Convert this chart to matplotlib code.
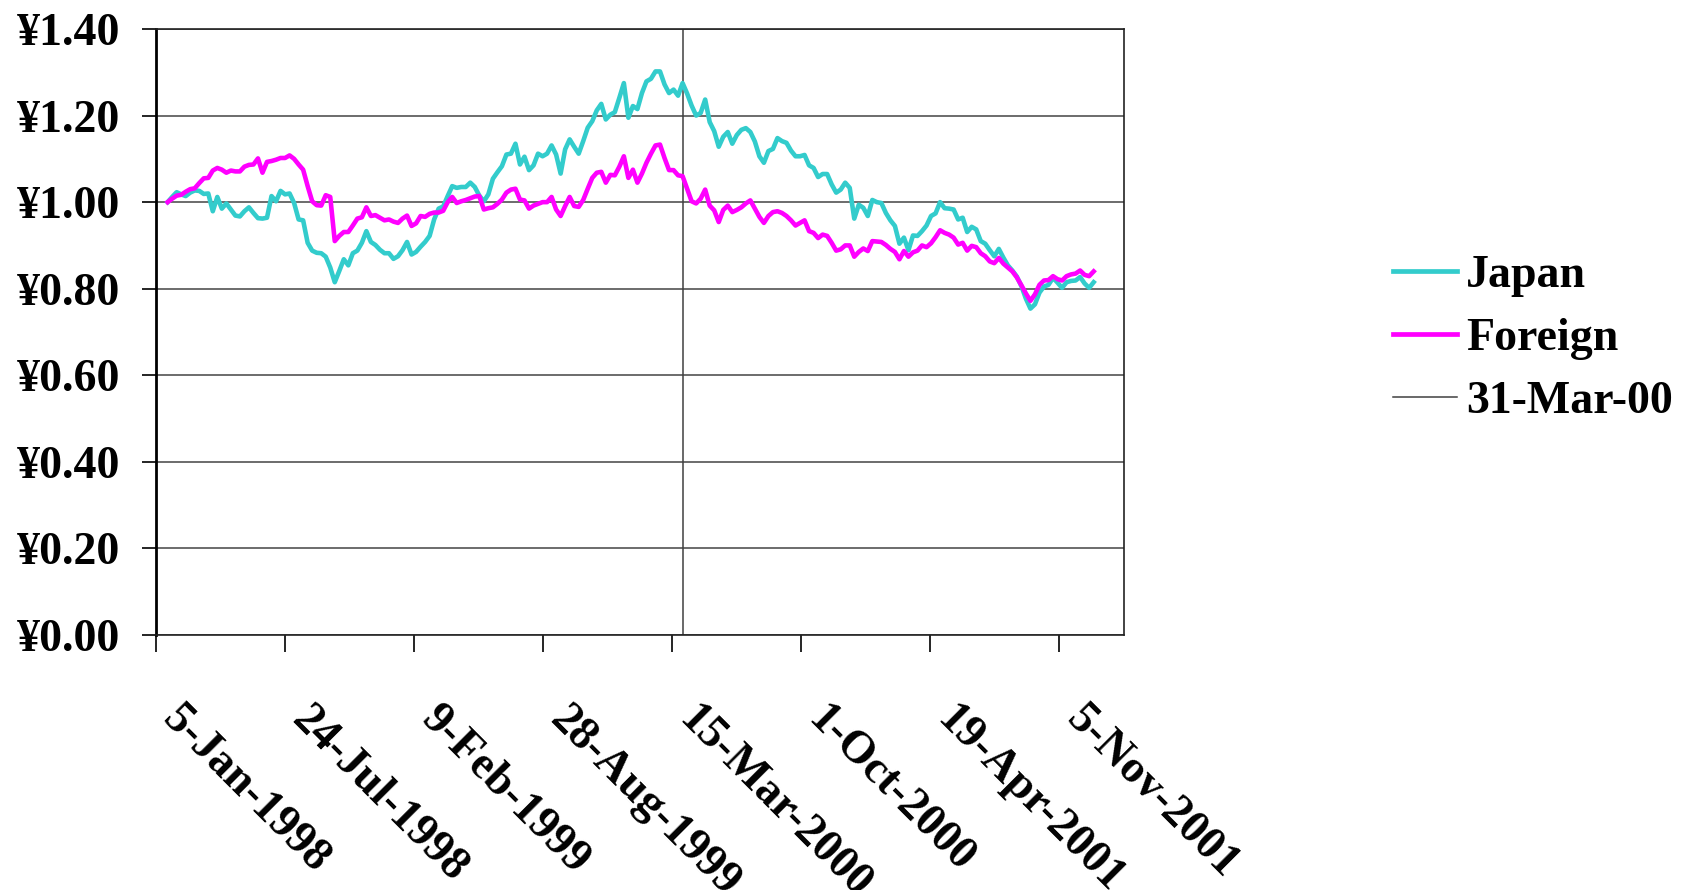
import matplotlib
matplotlib.use("Agg")
import matplotlib.pyplot as plt
import matplotlib.dates as mdates
import matplotlib.transforms as mtransforms
from matplotlib.lines import Line2D
import pandas as pd

plt.rcParams['font.family'] = ['Liberation Serif', 'DejaVu Serif']
plt.rcParams['font.weight'] = 'bold'

# ---- data (weekly) ----
start_date = "1998-01-23"
n_weeks = 206

japan = [
    1.000, 1.012, 1.023, 1.018, 1.014, 1.022, 1.027, 1.026, 1.019, 1.020,
    0.979, 1.012, 0.985, 0.997, 0.983, 0.969, 0.967, 0.979, 0.988, 0.975,
    0.963, 0.962, 0.964, 1.014, 1.002, 1.026, 1.018, 1.020, 0.998, 0.960,
    0.958, 0.906, 0.888, 0.883, 0.882, 0.874, 0.849, 0.815, 0.841, 0.868,
    0.854, 0.882, 0.888, 0.906, 0.933, 0.908, 0.901, 0.890, 0.882, 0.882,
    0.869, 0.875, 0.889, 0.908, 0.879, 0.885, 0.897, 0.908, 0.922, 0.960,
    0.985, 0.990, 1.014, 1.037, 1.033, 1.035, 1.035, 1.045, 1.035, 1.015,
    1.002, 1.018, 1.054, 1.069, 1.083, 1.110, 1.112, 1.135, 1.087, 1.105,
    1.074, 1.085, 1.112, 1.106, 1.112, 1.131, 1.110, 1.066, 1.122, 1.145,
    1.128, 1.112, 1.141, 1.172, 1.187, 1.212, 1.227, 1.191, 1.202, 1.208,
    1.241, 1.275, 1.195, 1.222, 1.215, 1.252, 1.279, 1.285, 1.302, 1.302,
    1.272, 1.252, 1.260, 1.246, 1.275, 1.251, 1.223, 1.200, 1.206, 1.237,
    1.185, 1.164, 1.128, 1.151, 1.162, 1.135, 1.155, 1.167, 1.171, 1.162,
    1.140, 1.106, 1.091, 1.118, 1.123, 1.148, 1.141, 1.137, 1.119, 1.106,
    1.106, 1.109, 1.085, 1.079, 1.058, 1.065, 1.065, 1.041, 1.022, 1.029,
    1.045, 1.033, 0.962, 0.994, 0.987, 0.968, 1.005, 1.000, 0.998, 0.975,
    0.958, 0.945, 0.904, 0.918, 0.889, 0.923, 0.922, 0.933, 0.946, 0.968,
    0.974, 1.000, 0.986, 0.985, 0.983, 0.960, 0.964, 0.931, 0.943, 0.937,
    0.910, 0.904, 0.889, 0.875, 0.892, 0.872, 0.854, 0.842, 0.828, 0.806,
    0.777, 0.754, 0.764, 0.791, 0.805, 0.809, 0.825, 0.814, 0.802, 0.815,
    0.818, 0.819, 0.827, 0.812, 0.802, 0.815,
]

foreign = [
    1.000, 1.008, 1.015, 1.017, 1.024, 1.030, 1.032, 1.044, 1.055, 1.056,
    1.073, 1.079, 1.075, 1.068, 1.073, 1.071, 1.071, 1.082, 1.086, 1.087,
    1.101, 1.068, 1.093, 1.095, 1.098, 1.102, 1.102, 1.108, 1.100, 1.087,
    1.075, 1.037, 1.002, 0.993, 0.992, 1.016, 1.012, 0.910, 0.922, 0.931,
    0.931, 0.946, 0.962, 0.965, 0.988, 0.968, 0.970, 0.964, 0.958, 0.960,
    0.955, 0.952, 0.962, 0.969, 0.945, 0.951, 0.968, 0.966, 0.973, 0.976,
    0.976, 0.980, 1.000, 1.012, 0.998, 1.002, 1.005, 1.009, 1.013, 1.014,
    0.983, 0.986, 0.988, 0.996, 1.006, 1.022, 1.029, 1.031, 1.006, 1.004,
    0.985, 0.992, 0.996, 1.000, 1.000, 1.012, 0.983, 0.968, 0.991, 1.012,
    0.991, 0.989, 1.005, 1.031, 1.056, 1.068, 1.070, 1.045, 1.063, 1.062,
    1.082, 1.106, 1.056, 1.075, 1.045, 1.066, 1.091, 1.112, 1.131, 1.133,
    1.102, 1.074, 1.074, 1.062, 1.060, 1.031, 1.002, 0.997, 1.008, 1.029,
    0.992, 0.981, 0.954, 0.982, 0.992, 0.977, 0.982, 0.988, 0.997, 1.004,
    0.985, 0.966, 0.952, 0.968, 0.977, 0.979, 0.975, 0.968, 0.958, 0.946,
    0.952, 0.958, 0.933, 0.929, 0.917, 0.925, 0.922, 0.906, 0.888, 0.891,
    0.900, 0.900, 0.874, 0.885, 0.893, 0.887, 0.910, 0.909, 0.908, 0.901,
    0.892, 0.885, 0.868, 0.887, 0.874, 0.884, 0.888, 0.900, 0.896, 0.905,
    0.919, 0.935, 0.929, 0.925, 0.918, 0.902, 0.906, 0.888, 0.899, 0.896,
    0.882, 0.875, 0.863, 0.859, 0.871, 0.858, 0.849, 0.840, 0.826, 0.808,
    0.789, 0.772, 0.787, 0.809, 0.819, 0.820, 0.829, 0.822, 0.819, 0.829,
    0.833, 0.835, 0.842, 0.832, 0.829, 0.840,
]

x_tick_labels = ['5-Jan-1998', '24-Jul-1998', '9-Feb-1999', '28-Aug-1999',
                 '15-Mar-2000', '1-Oct-2000', '19-Apr-2001', '5-Nov-2001']
y_ticks = [0.0, 0.2, 0.4, 0.6, 0.8, 1.0, 1.2, 1.4]
y_tick_labels = ['¥0.00', '¥0.20', '¥0.40', '¥0.60', '¥0.80', '¥1.00', '¥1.20', '¥1.40']
marker_date = '2000-03-31'
marker_label = '31-Mar-00'
x_min, x_max = '1998-01-05', '2002-02-13'

series_names = ['Japan', 'Foreign']
series_colors = ['#33CCCC', '#FF00FF']

# ---- figure ----
W, H = 1692, 890
fig = plt.figure(figsize=(W / 100, H / 100), dpi=100)
ax = fig.add_axes([156 / W, 1 - 635 / H, (1124 - 156) / W, (635 - 29) / H])

dates = pd.date_range(start_date, periods=n_weeks, freq='7D')
for vals, name, col in zip([japan, foreign], series_names, series_colors):
    ax.plot(dates, vals, color=col, lw=3.3, label=name, solid_joinstyle='round', zorder=3)

ax.axvline(pd.Timestamp(marker_date), color='#404040', lw=1.1, zorder=2)

ax.set_ylim(0, 1.4)
ax.set_xlim(pd.Timestamp(x_min), pd.Timestamp(x_max))
ax.set_yticks(y_ticks)
ax.set_yticklabels(y_tick_labels, fontsize=33, fontweight='bold')
ax.yaxis.grid(True, color='#444444', lw=1.1)
ax.set_axisbelow(True)

tick_dates = [pd.Timestamp(pd.to_datetime(t, format='%d-%b-%Y')) for t in x_tick_labels]
ax.set_xticks(tick_dates)
ax.set_xticklabels([])

offset = mtransforms.ScaledTranslation(0.28, -0.63, fig.dpi_scale_trans)
trans = mtransforms.blended_transform_factory(ax.transData, ax.transAxes) + offset
for d, lab in zip(tick_dates, x_tick_labels):
    ax.text(mdates.date2num(d), 0, lab, transform=trans, rotation=-45,
            rotation_mode='anchor', ha='left', va='top', fontsize=33, fontweight='bold')

ax.tick_params(axis='y', length=10, width=1.2, pad=16, direction='out')
ax.tick_params(axis='x', length=12, width=1.2, direction='out')
for s in ['top', 'right', 'bottom']:
    ax.spines[s].set_linewidth(1.2)
    ax.spines[s].set_color('#222222')
ax.spines['left'].set_linewidth(2.0)
ax.spines['left'].set_color('black')

handles = [Line2D([], [], color=series_colors[0], lw=3.4),
           Line2D([], [], color=series_colors[1], lw=3.4),
           Line2D([], [], color='#404040', lw=1.1)]
fig.legend(handles, series_names + [marker_label], loc='center left',
           bbox_to_anchor=(1393 / W, 1 - 339 / H), frameon=False,
           prop={'size': 33, 'weight': 'bold'}, handlelength=1.4,
           handletextpad=0.2, labelspacing=0.45, borderpad=0, borderaxespad=0)

fig.savefig('out.png', dpi=100)
